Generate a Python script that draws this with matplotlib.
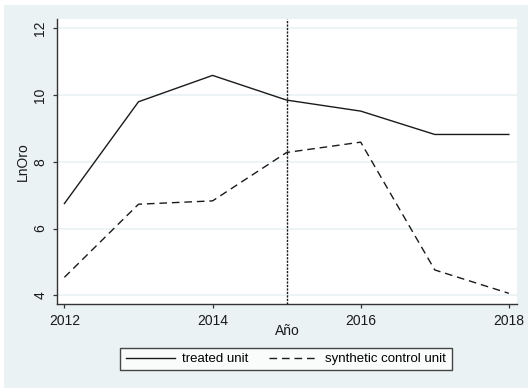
import numpy as np
import matplotlib
matplotlib.use('Agg')
from matplotlib import pyplot as plt
from matplotlib.patches import Rectangle

# LnOro by year, treated unit vs. synthetic control
years = [2012, 2013, 2014, 2015, 2016, 2017, 2018]
treated = [6.75, 9.80, 10.59, 9.85, 9.52, 8.82, 8.82]
synthetic = [4.54, 6.73, 6.83, 8.28, 8.59, 4.76, 4.06]
treat_year = 2015
y_ticks = [4, 6, 8, 10, 12]
x_ticks = [2012, 2014, 2016, 2018]

bg = '#EAF2F3'
ink = '#1a1a1a'

plt.rcParams.update({'font.family': ['Liberation Sans', 'DejaVu Sans'], 'font.size': 10})

fig = plt.figure(figsize=(5.28, 3.88), dpi=100)
fig.patch.set_facecolor('white')
fig.patches.append(Rectangle((4 / 528, 0), 1, (388 - 5) / 388, transform=fig.transFigure,
                             facecolor=bg, edgecolor='none', zorder=-10))

ax = fig.add_axes([57 / 528, 1 - 304 / 388, (517 - 57) / 528, (304 - 19) / 388])
ax.set_facecolor('white')

for y in y_ticks:
    ax.axhline(y, color=bg, lw=1.2, zorder=0)

ax.plot(years, treated, color=ink, lw=1.0, label='treated unit')
ax.plot(years, synthetic, color=ink, lw=1.0, dashes=(5.5, 3.5), label='synthetic control unit')
ax.axvline(treat_year, color=ink, lw=1.0, dashes=(1.6, 0.9))

ax.set_xlim(2011.90, 2018.11)
ax.set_ylim(3.74, 12.28)
ax.set_xticks(x_ticks)
ax.set_yticks(y_ticks)
ax.set_yticklabels([str(t) for t in y_ticks], rotation=90, va='center')

for side in ['top', 'right']:
    ax.spines[side].set_visible(False)
for side in ['left', 'bottom']:
    ax.spines[side].set_color('#333333')
    ax.spines[side].set_linewidth(1.0)
ax.tick_params(axis='both', direction='out', length=3, width=0.9, color='#333333',
               labelsize=10, labelcolor=ink)
ax.tick_params(axis='y', pad=4)
ax.tick_params(axis='x', pad=4)

ax.set_ylabel('LnOro', fontsize=10, color=ink)
ax.yaxis.set_label_coords(-0.058, 0.5)
ax.set_xlabel('Año', fontsize=10, color=ink)
ax.xaxis.set_label_coords(0.5, -0.07)

leg = fig.legend(loc='center', bbox_to_anchor=(286 / 528, 1 - 359 / 388), ncol=2,
                 fontsize=9.5, frameon=True, fancybox=False, handlelength=3.7,
                 handletextpad=0.6, columnspacing=1.5, borderpad=0.4)
leg.get_frame().set_edgecolor(ink)
leg.get_frame().set_linewidth(1.0)
leg.get_frame().set_facecolor('white')

plt.savefig('out.png', dpi=100, facecolor=fig.get_facecolor())
